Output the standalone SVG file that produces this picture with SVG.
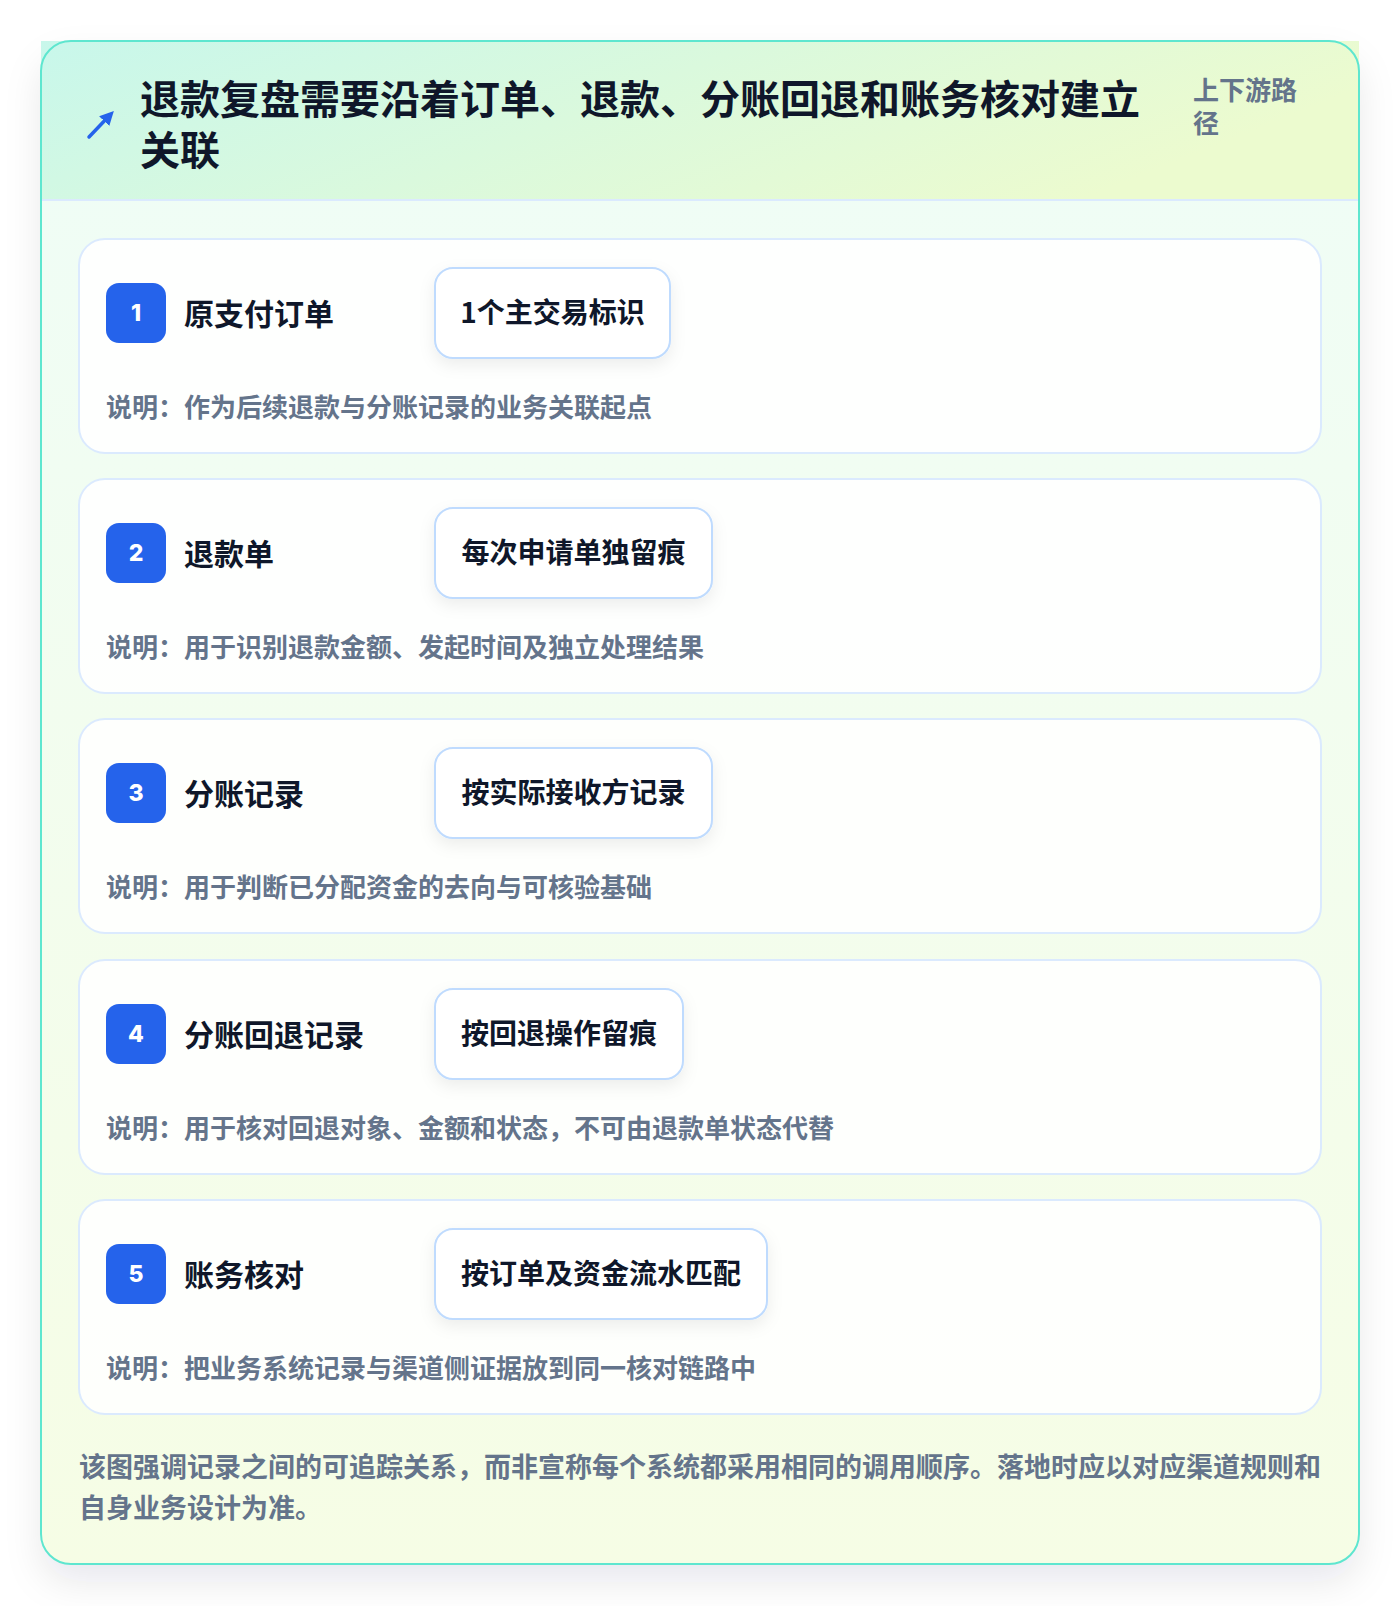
<svg xmlns="http://www.w3.org/2000/svg" width="1400" height="1606" viewBox="0 0 1400 1606">
<defs>
<linearGradient id="hdr" x1="0" y1="0" x2="1" y2="0.3">
<stop offset="0" stop-color="#c8f7eb"/>
<stop offset="1" stop-color="#ecfbcf"/>
</linearGradient>
<linearGradient id="body" x1="0" y1="0" x2="0" y2="1">
<stop offset="0" stop-color="#effdf7"/>
<stop offset="1" stop-color="#f6fde5"/>
</linearGradient>
<filter id="sh" x="-10%" y="-10%" width="120%" height="120%">
<feDropShadow dx="0" dy="18" stdDeviation="18" flood-color="#0f172a" flood-opacity="0.09"/>
</filter>
<filter id="psh" x="-20%" y="-30%" width="140%" height="170%">
<feDropShadow dx="0" dy="6" stdDeviation="8" flood-color="#0f172a" flood-opacity="0.07"/>
</filter>
<marker id="ah" viewBox="0 0 10 10" refX="6" refY="5" markerWidth="4" markerHeight="4" orient="auto">
<path d="M0,0 L10,5 L0,10 z" fill="#2563eb"/>
</marker>
</defs>
<style>
text{font-family:"Noto Sans CJK SC","Noto Sans",sans-serif;font-weight:700}
.title{font-size:40px;fill:#0f172a}
.side{font-size:26px;fill:#64748b}
.row{fill:#ffffff;fill-opacity:0.88;stroke:#dbeafe;stroke-width:2}
.badge{fill:#2563eb}
.num{font-family:"Inter","Noto Sans",sans-serif;font-size:23px;font-weight:800;fill:#ffffff;text-anchor:middle}
.lbl{font-size:30px;fill:#0f172a}
.pill{fill:#ffffff;stroke:#bfdbfe;stroke-width:2}
.ptxt{font-size:28px;fill:#0f172a;text-anchor:middle}
.desc{font-size:26px;fill:#64748b}
.foot{font-size:27px;fill:#64748b}
</style>
<rect width="1400" height="1606" fill="#ffffff"/>
<g id="card">
<rect x="41" y="41" width="1318" height="1523" rx="30" fill="url(#body)" filter="url(#sh)"/>
<rect x="41" y="41" width="1318" height="159" fill="url(#hdr)"/>
<line x1="41" y1="200" x2="1359" y2="200" stroke="#dbeafe" stroke-width="2"/>
<rect x="41" y="41" width="1318" height="1523" rx="30" fill="none" stroke="#5ee6cf" stroke-width="2"/>
</g>
<g id="header">
<path d="M89,137 L110,115" stroke="#2563eb" stroke-width="3.5" stroke-linecap="round" marker-end="url(#ah)"/>
<text class="title" x="140" y="114">退款复盘需要沿着订单、退款、分账回退和账务核对建立</text>
<text class="title" x="140" y="165">关联</text>
<text class="side" x="1193" y="100">上下游路</text>
<text class="side" x="1193" y="133">径</text>
</g>
<g id="connectors"></g>
<g id="step1">
<rect class="row" x="79" y="239" width="1242" height="214" rx="26"/>
<rect class="badge" x="106" y="283" width="60" height="60" rx="13"/>
<text class="num" x="136" y="321">1</text>
<text class="lbl" x="184" y="325">原支付订单</text>
<rect class="pill" x="435" y="268" width="235" height="90" rx="18" filter="url(#psh)"/>
<text class="ptxt" x="552.5" y="323">1个主交易标识</text>
<text class="desc" x="106" y="417">说明：作为后续退款与分账记录的业务关联起点</text>
</g>
<g id="step2">
<rect class="row" x="79" y="479" width="1242" height="214" rx="26"/>
<rect class="badge" x="106" y="523" width="60" height="60" rx="13"/>
<text class="num" x="136" y="561">2</text>
<text class="lbl" x="184" y="565">退款单</text>
<rect class="pill" x="435" y="508" width="277" height="90" rx="18" filter="url(#psh)"/>
<text class="ptxt" x="573.5" y="563">每次申请单独留痕</text>
<text class="desc" x="106" y="657">说明：用于识别退款金额、发起时间及独立处理结果</text>
</g>
<g id="step3">
<rect class="row" x="79" y="719" width="1242" height="214" rx="26"/>
<rect class="badge" x="106" y="763" width="60" height="60" rx="13"/>
<text class="num" x="136" y="801">3</text>
<text class="lbl" x="184" y="805">分账记录</text>
<rect class="pill" x="435" y="748" width="277" height="90" rx="18" filter="url(#psh)"/>
<text class="ptxt" x="573.5" y="803">按实际接收方记录</text>
<text class="desc" x="106" y="897">说明：用于判断已分配资金的去向与可核验基础</text>
</g>
<g id="step4">
<rect class="row" x="79" y="960" width="1242" height="214" rx="26"/>
<rect class="badge" x="106" y="1004" width="60" height="60" rx="13"/>
<text class="num" x="136" y="1042">4</text>
<text class="lbl" x="184" y="1046">分账回退记录</text>
<rect class="pill" x="435" y="989" width="248" height="90" rx="18" filter="url(#psh)"/>
<text class="ptxt" x="559" y="1044">按回退操作留痕</text>
<text class="desc" x="106" y="1138">说明：用于核对回退对象、金额和状态，不可由退款单状态代替</text>
</g>
<g id="step5">
<rect class="row" x="79" y="1200" width="1242" height="214" rx="26"/>
<rect class="badge" x="106" y="1244" width="60" height="60" rx="13"/>
<text class="num" x="136" y="1282">5</text>
<text class="lbl" x="184" y="1286">账务核对</text>
<rect class="pill" x="435" y="1229" width="332" height="90" rx="18" filter="url(#psh)"/>
<text class="ptxt" x="601" y="1284">按订单及资金流水匹配</text>
<text class="desc" x="106" y="1378">说明：把业务系统记录与渠道侧证据放到同一核对链路中</text>
</g>
<g id="footer">
<text class="foot" x="79" y="1477">该图强调记录之间的可追踪关系，而非宣称每个系统都采用相同的调用顺序。落地时应以对应渠道规则和</text>
<text class="foot" x="79" y="1518">自身业务设计为准。</text>
</g>
</svg>
